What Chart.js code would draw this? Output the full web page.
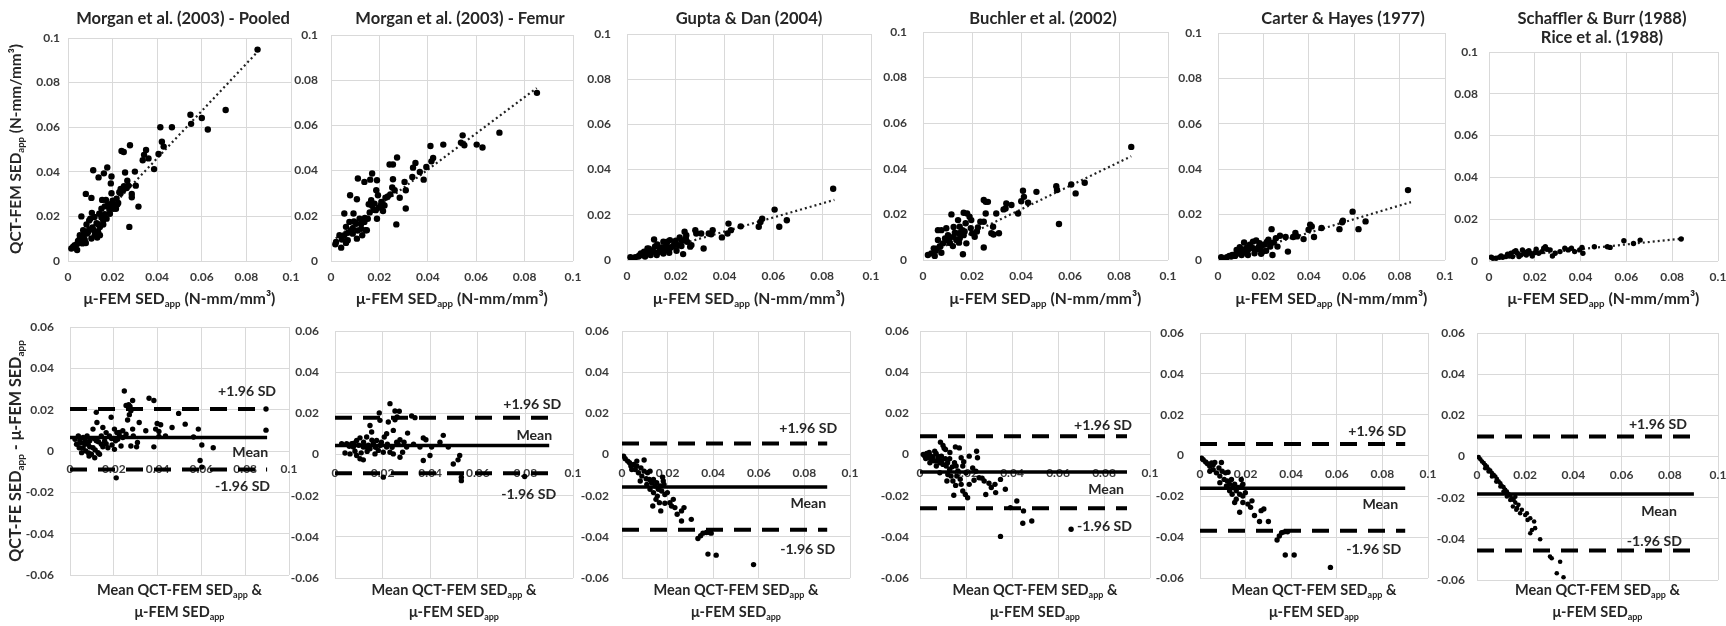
<!DOCTYPE html>
<html><head><meta charset="utf-8">
<script src="https://cdn.jsdelivr.net/npm/chart.js@4.4.1/dist/chart.umd.min.js"></script>
<style>
html,body{margin:0;padding:0;background:#fff;width:1726px;height:626px;overflow:hidden;position:relative}
canvas{position:absolute}
</style></head><body>
<script>
// ===================== DATA =====================
const studyTitles = [
  ['Morgan et al. (2003) - Pooled'],
  ['Morgan et al. (2003) - Femur'],
  ['Gupta & Dan (2004)'],
  ['Buchler et al. (2002)'],
  ['Carter & Hayes (1977)'],
  ['Schaffler & Burr (1988)', 'Rice et al. (1988)']
];
const topTicks = [0, 0.02, 0.04, 0.06, 0.08, 0.1];
const topTickLabels = ['0', '0.02', '0.04', '0.06', '0.08', '0.1'];
const baTicks = [-0.06, -0.04, -0.02, 0, 0.02, 0.04, 0.06];
const baTickLabels = ['-0.06', '-0.04', '-0.02', '0', '0.02', '0.04', '0.06'];

// QCT-FEM SED vs micro-FEM SED  [x, y]
const pooledPts = [[0.085,0.0948],[0.0707,0.0677],[0.060,0.0641],[0.0549,0.0656],[0.0552,0.0615],[0.0627,0.059],[0.0466,0.060],[0.0414,0.060],[0.0421,0.0535],[0.0429,0.0513],[0.0406,0.048],[0.0386,0.0412],[0.035,0.0498],[0.0341,0.0476],[0.0335,0.0452],[0.0361,0.046],[0.030,0.0401],[0.0278,0.0519],[0.024,0.0493],[0.025,0.0489],[0.0256,0.0397],[0.0304,0.0338],[0.0286,0.0301],[0.0286,0.0286],[0.0271,0.0338],[0.0251,0.0335],[0.0236,0.0323],[0.023,0.0308],[0.0316,0.0244],[0.0275,0.0153],[0.0195,0.0379],[0.0192,0.0348],[0.0176,0.0419],[0.0161,0.0393],[0.0137,0.0375],[0.0113,0.0407],[0.0195,0.0304],[0.0153,0.0274],[0.017,0.0274],[0.018,0.0253],[0.021,0.0249],[0.0221,0.0253],[0.0203,0.0234],[0.015,0.0234],[0.014,0.0212],[0.0173,0.019],[0.0158,0.0182],[0.0128,0.017],[0.0105,0.0283],[0.008,0.0301],[0.0107,0.0216],[0.0119,0.0197],[0.0095,0.0182],[0.0083,0.0164],[0.006,0.02],[0.0116,0.0138],[0.0135,0.013],[0.0143,0.0153],[0.0068,0.0138],[0.0053,0.0116],[0.0086,0.0123],[0.0105,0.0101],[0.008,0.0081],[0.0053,0.0101],[0.0041,0.0076],[0.0023,0.0064],[0.0015,0.0056],[0.0041,0.0049],[0.0065,0.0079],[0.0095,0.0141],[0.012,0.0116],[0.0131,0.0105],[0.0143,0.0116],[0.0075,0.0123],[0.003,0.0071],[0.0158,0.0164],[0.0188,0.0212],[0.0218,0.0279],[0.0215,0.0234],[0.0236,0.0304],[0.0248,0.0319],[0.0263,0.0327],[0.0266,0.036],[0.007,0.011],[0.009,0.013],[0.011,0.015],[0.0125,0.0125],[0.0135,0.0165],[0.015,0.0195],[0.0165,0.021],[0.0185,0.0235],[0.02,0.027],[0.0225,0.026],[0.01,0.019],[0.0075,0.0095],[0.0045,0.009],[0.0165,0.0245],[0.019,0.0255]];
const femurPts = [[0.0851,0.0744],[0.0696,0.0568],[0.0626,0.0502],[0.0602,0.0515],[0.0544,0.0556],[0.0551,0.0512],[0.0537,0.0524],[0.0464,0.0515],[0.0411,0.0509],[0.0422,0.0456],[0.0415,0.0441],[0.0394,0.0416],[0.0383,0.036],[0.0367,0.0394],[0.0349,0.0434],[0.0339,0.0413],[0.0336,0.0372],[0.0304,0.035],[0.0309,0.0313],[0.0309,0.0232],[0.0273,0.0458],[0.0242,0.0427],[0.0256,0.0427],[0.0256,0.0362],[0.0284,0.028],[0.027,0.0162],[0.0263,0.0313],[0.0245,0.0295],[0.0235,0.0286],[0.0253,0.0325],[0.019,0.0357],[0.017,0.0387],[0.0162,0.036],[0.0138,0.035],[0.0111,0.0365],[0.0187,0.0313],[0.0194,0.0291],[0.0166,0.0269],[0.0156,0.0251],[0.0176,0.0227],[0.0198,0.0236],[0.0221,0.0246],[0.0215,0.0221],[0.019,0.0187],[0.0107,0.0273],[0.0079,0.0291],[0.0093,0.021],[0.0055,0.021],[0.0118,0.0187],[0.0138,0.0173],[0.0148,0.0136],[0.0125,0.0143],[0.0104,0.0165],[0.0076,0.0173],[0.0062,0.0151],[0.0083,0.0136],[0.0107,0.0099],[0.0129,0.0114],[0.0069,0.0092],[0.0055,0.0114],[0.0035,0.0114],[0.0021,0.0084],[0.0018,0.0074],[0.0042,0.0059],[0.0062,0.008],[0.009,0.0121],[0.0143,0.0136],[0.0152,0.0187],[0.018,0.0254],[0.0208,0.0261],[0.007,0.0125],[0.009,0.0145],[0.011,0.0135],[0.0125,0.0165],[0.014,0.019],[0.016,0.0215],[0.0185,0.0225],[0.0205,0.0245],[0.0225,0.028],[0.0095,0.0175],[0.0045,0.0095],[0.017,0.0245]];
const guptaPts = [[0.0845,0.0315],[0.0605,0.0223],[0.0655,0.0176],[0.0624,0.0147],[0.0554,0.0183],[0.0547,0.0168],[0.054,0.0147],[0.0466,0.0149],[0.0416,0.0161],[0.0412,0.0117],[0.0426,0.0132],[0.0389,0.01],[0.0351,0.0132],[0.0345,0.0114],[0.0335,0.0117],[0.0314,0.0051],[0.0304,0.0117],[0.0284,0.0117],[0.028,0.0132],[0.0259,0.0059],[0.023,0.0026],[0.0246,0.0081],[0.0241,0.0095],[0.0236,0.0125],[0.0216,0.01],[0.02,0.0085],[0.0189,0.0062],[0.0176,0.0088],[0.0165,0.0081],[0.0151,0.0051],[0.0173,0.0051],[0.0135,0.0047],[0.0124,0.0069],[0.0111,0.0091],[0.0142,0.0056],[0.0108,0.0037],[0.0097,0.0022],[0.0084,0.0051],[0.0078,0.0032],[0.0061,0.0022],[0.0047,0.0015],[0.0034,0.0012],[0.002,0.0007],[0.0014,0.0012],[0.0074,0.0015],[0.0095,0.0029],[0.0122,0.0022],[0.0149,0.0029],[0.0173,0.0032],[0.0203,0.0041],[0.0223,0.0062],[0.0162,0.007],[0.0149,0.0081],[0.007,0.0037],[0.0057,0.0029],[0.0243,0.011],[0.0264,0.0066],[0.005,0.002],[0.008,0.0025],[0.0105,0.004],[0.013,0.0035],[0.016,0.0045],[0.018,0.0055],[0.021,0.0065],[0.0115,0.006],[0.009,0.005],[0.0195,0.0075],[0.0225,0.0085]];
const buchlerPts = [[0.085,0.0496],[0.066,0.0339],[0.0623,0.0292],[0.0605,0.0331],[0.0544,0.0324],[0.0547,0.0307],[0.0555,0.0158],[0.0463,0.0299],[0.0408,0.0304],[0.0412,0.0277],[0.0401,0.0258],[0.0429,0.0251],[0.0388,0.0204],[0.0361,0.0241],[0.034,0.0248],[0.0337,0.0226],[0.0329,0.0222],[0.0299,0.0204],[0.031,0.0117],[0.0288,0.0112],[0.0279,0.0117],[0.0286,0.0146],[0.0265,0.0255],[0.0256,0.0255],[0.0248,0.0263],[0.0256,0.0204],[0.0248,0.0168],[0.0234,0.0168],[0.0224,0.0143],[0.0211,0.0102],[0.0248,0.0055],[0.0201,0.0117],[0.0197,0.0175],[0.019,0.019],[0.018,0.0204],[0.0166,0.0207],[0.0174,0.0161],[0.0161,0.0131],[0.0166,0.0109],[0.0177,0.0073],[0.0163,0.0025],[0.0143,0.0175],[0.0116,0.02],[0.0147,0.0117],[0.0136,0.0088],[0.0122,0.0061],[0.0095,0.0139],[0.0075,0.0131],[0.0061,0.0131],[0.0109,0.0095],[0.0102,0.0109],[0.0093,0.0085],[0.0082,0.0073],[0.0068,0.0058],[0.0061,0.0088],[0.0052,0.0041],[0.0044,0.0051],[0.0034,0.0029],[0.002,0.0022],[0.0048,0.0018],[0.0075,0.0032],[0.0125,0.0102],[0.0147,0.0076],[0.015,0.0146],[0.007,0.006],[0.009,0.0095],[0.011,0.0075],[0.013,0.012],[0.015,0.0095],[0.017,0.0125],[0.0195,0.014],[0.022,0.0125],[0.0055,0.005],[0.0125,0.0145]];
const carterPts = [[0.0837,0.0308],[0.0593,0.0213],[0.065,0.017],[0.0619,0.0136],[0.055,0.0173],[0.0547,0.0166],[0.0535,0.0136],[0.0456,0.0141],[0.0406,0.0156],[0.0413,0.0148],[0.0399,0.0133],[0.0423,0.0101],[0.0377,0.0092],[0.0341,0.0119],[0.0331,0.0101],[0.0348,0.0104],[0.0308,0.0037],[0.0298,0.0101],[0.0273,0.0107],[0.0255,0.0096],[0.0236,0.0136],[0.024,0.0022],[0.023,0.0059],[0.0216,0.0081],[0.0222,0.0089],[0.0193,0.0062],[0.0176,0.0047],[0.0168,0.0086],[0.0154,0.0081],[0.0144,0.0059],[0.0125,0.0041],[0.0115,0.0077],[0.0111,0.0047],[0.0089,0.003],[0.0082,0.0044],[0.0075,0.0018],[0.0058,0.0015],[0.0039,0.0012],[0.002,0.0007],[0.0014,0.0012],[0.0063,0.0022],[0.0104,0.0022],[0.0132,0.0022],[0.0161,0.003],[0.019,0.0027],[0.0212,0.0041],[0.0197,0.0037],[0.014,0.0067],[0.0183,0.0074],[0.0245,0.0077],[0.0262,0.0059],[0.0132,0.0044],[0.0096,0.0056],[0.0118,0.0033],[0.005,0.0018],[0.008,0.0027],[0.0105,0.0035],[0.0128,0.0055],[0.0155,0.0052],[0.018,0.0058],[0.0205,0.0068],[0.0092,0.0045],[0.023,0.0075]];
const schafflerPts = [[0.0839,0.0105],[0.066,0.01],[0.0631,0.0084],[0.0589,0.0097],[0.0529,0.0065],[0.0517,0.0068],[0.046,0.0068],[0.0406,0.0065],[0.0396,0.0053],[0.041,0.0037],[0.0374,0.0045],[0.0346,0.0053],[0.0331,0.0061],[0.031,0.0045],[0.0289,0.0037],[0.0277,0.0024],[0.0267,0.0053],[0.0253,0.0056],[0.0239,0.0061],[0.0231,0.0045],[0.0217,0.0037],[0.02,0.004],[0.0181,0.0037],[0.0167,0.0045],[0.0153,0.0037],[0.0139,0.0029],[0.0124,0.0037],[0.011,0.0045],[0.0096,0.0037],[0.0089,0.0024],[0.0074,0.0021],[0.006,0.0018],[0.0046,0.0018],[0.0031,0.0013],[0.0017,0.0013],[0.001,0.0018],[0.0053,0.0024],[0.0081,0.0033],[0.0117,0.0049],[0.0146,0.0053],[0.0174,0.0049],[0.0206,0.0056],[0.0163,0.0029],[0.0131,0.0021],[0.0103,0.0021],[0.0189,0.0024],[0.0246,0.0068],[0.036,0.0061]];

// linear trend lines of the top row: [y at trendX[0], y at trendX[1]]
const trendX = [0.002, 0.085];
const trendY = [[0.0058,0.0938],[0.010,0.0765],[0.0008,0.0266],[0.0025,0.0455],[0.0006,0.0255],[0.0013,0.0108]];

// Bland-Altman: mean of both vs difference [x, y]
const baPooledPts = [[0.0248,0.029],[0.0361,0.0255],[0.0383,0.0244],[0.0286,0.0244],[0.0268,0.0224],[0.0256,0.022],[0.0274,0.0215],[0.0278,0.0195],[0.0263,0.015],[0.0271,0.0176],[0.0188,0.0163],[0.012,0.0187],[0.0123,0.0138],[0.015,0.0114],[0.0496,0.0182],[0.0526,0.013],[0.0466,0.0114],[0.0398,0.0133],[0.0414,0.0127],[0.0406,0.0094],[0.0391,0.0106],[0.0436,0.0073],[0.0406,0.007],[0.0346,0.0098],[0.0316,0.0138],[0.0286,0.0106],[0.0289,0.0073],[0.0241,0.0098],[0.0214,0.0089],[0.0203,0.0106],[0.0226,0.0073],[0.0208,0.0049],[0.0192,0.0029],[0.0233,0.0024],[0.0278,0.0024],[0.0241,0.0065],[0.0304,0.002],[0.0383,0.002],[0.0586,0.0106],[0.0564,0.0068],[0.0602,0.0029],[0.0654,0.0016],[0.0594,-0.0046],[0.0602,-0.0078],[0.0895,0.0101],[0.0895,0.0203],[0.0211,-0.013],[0.0165,0.0089],[0.0143,0.0073],[0.0105,0.0106],[0.0078,0.0073],[0.009,0.0049],[0.006,0.0065],[0.0045,0.0049],[0.003,0.0033],[0.0023,0.0057],[0.0042,0.0016],[0.0053,-0.0008],[0.0072,0],[0.0083,0.0033],[0.0105,0.0016],[0.0098,-0.0016],[0.0113,-0.0033],[0.0128,-0.0008],[0.0143,0.0033],[0.012,0.0049],[0.0158,0.0049],[0.0173,0.0016],[0.0203,0.0008],[0.0135,-0.0016],[0.0087,-0.0024],[0.0068,0.0033],[0.0038,0.0073],[0.018,0.0073],[0.0218,0.0057],[0.0256,0.0081],[0.0308,0.0041],[0.005,0.004],[0.007,0.005],[0.009,0.002],[0.011,0.006],[0.013,0.0045],[0.015,0.002],[0.006,0.0015],[0.0085,-0.001],[0.0115,0.0005],[0.0165,0.0035],[0.019,0.006],[0.0225,0.009]];
const baFemurPts = [[0.0231,0.0247],[0.0186,0.0202],[0.0252,0.0211],[0.027,0.021],[0.0261,0.0182],[0.0252,0.0169],[0.0189,0.0166],[0.0147,0.0141],[0.0224,0.0158],[0.0322,0.0187],[0.0336,0.0179],[0.0455,0.0093],[0.0245,0.0117],[0.0217,0.0101],[0.0207,0.0085],[0.0305,0.0104],[0.0371,0.008],[0.0382,0.0072],[0.0441,0.006],[0.0273,0.0072],[0.0259,0.006],[0.0175,0.0068],[0.0154,0.0109],[0.0133,0.0085],[0.0105,0.0081],[0.0091,0.0068],[0.007,0.0052],[0.0049,0.0052],[0.0028,0.0052],[0.0042,0.0007],[0.0063,0.0003],[0.0084,0.0016],[0.0105,-0.0021],[0.0119,-0.0026],[0.013,0.0036],[0.0147,0.0028],[0.0168,0.0003],[0.0182,0.002],[0.0203,0.0011],[0.0217,0.0036],[0.0231,0.0011],[0.0245,0.0003],[0.0273,-0.0013],[0.0284,0.0011],[0.0301,0.0036],[0.0357,0.0036],[0.0371,-0.0029],[0.0399,-0.0005],[0.0406,0.0036],[0.0203,-0.011],[0.0497,-0.0046],[0.0517,-0.0026],[0.0524,-0.0005],[0.0531,-0.011],[0.0531,-0.0127],[0.0797,-0.0107],[0.0476,0.0036],[0.0077,0.0036],[0.0119,0.0036],[0.0161,0.0052],[0.0189,0.0044],[0.0091,-0.0005],[0.006,0.004],[0.008,0.0055],[0.010,0.0045],[0.012,0.006],[0.014,0.0045],[0.0155,0.007],[0.017,0.0035],[0.0195,0.006],[0.022,0.005],[0.024,0.0035],[0.0265,0.005],[0.011,0.0008],[0.0135,0.0015],[0.029,0.006],[0.033,0.005]];
const baGuptaPts = [[0.0007,-0.0008],[0.0014,-0.0021],[0.0025,-0.0032],[0.0033,-0.004],[0.0039,-0.0056],[0.0051,-0.0048],[0.0058,-0.0073],[0.0065,-0.0032],[0.0072,-0.0089],[0.0083,-0.0065],[0.0087,-0.0105],[0.0097,-0.0081],[0.0097,-0.0027],[0.0106,-0.0118],[0.0112,-0.0089],[0.012,-0.0121],[0.0123,-0.0081],[0.013,-0.0137],[0.0138,-0.0121],[0.0145,-0.0153],[0.0152,-0.0137],[0.0159,-0.0169],[0.0167,-0.0153],[0.0174,-0.0177],[0.0184,-0.0145],[0.0188,-0.0194],[0.0178,-0.011],[0.0199,-0.0185],[0.0135,-0.025],[0.017,-0.0274],[0.0164,-0.0234],[0.0188,-0.0237],[0.021,-0.0234],[0.0217,-0.025],[0.0225,-0.0218],[0.0232,-0.0258],[0.0242,-0.029],[0.0261,-0.0274],[0.0272,-0.0258],[0.0261,-0.0323],[0.0304,-0.0315],[0.0333,-0.0408],[0.0345,-0.0395],[0.0355,-0.0382],[0.037,-0.0379],[0.0384,-0.0379],[0.0391,-0.0382],[0.0377,-0.0484],[0.0413,-0.0489],[0.0577,-0.0535],[0.008,-0.0129],[0.0109,-0.0145],[0.0138,-0.0185],[0.0155,-0.0202],[0.0149,-0.0218],[0.0065,-0.0056],[0.0043,-0.0073],[0.0123,-0.0169],[0.0181,-0.0129]];
const baBuchlerPts = [[0.0014,0],[0.0021,-0.0008],[0.0029,0.0005],[0.0036,-0.0016],[0.0043,-0.0005],[0.005,-0.0024],[0.0057,-0.0011],[0.0069,-0.0032],[0.0079,-0.0021],[0.0086,-0.004],[0.0093,-0.0008],[0.01,-0.0048],[0.0089,0.006],[0.01,0.0044],[0.0111,0.0024],[0.0114,-0.0056],[0.0129,-0.0073],[0.0117,-0.0129],[0.0143,-0.0129],[0.015,-0.004],[0.0157,-0.0056],[0.016,-0.0105],[0.0154,0.0037],[0.0171,0.0032],[0.0179,-0.0016],[0.0186,-0.0056],[0.0179,-0.0145],[0.0147,-0.0198],[0.0186,-0.0177],[0.0197,-0.0194],[0.0207,-0.021],[0.0214,-0.0145],[0.0229,-0.0065],[0.0243,-0.0081],[0.0246,0.0016],[0.025,-0.0016],[0.0257,-0.0113],[0.0279,-0.0129],[0.0286,-0.0194],[0.03,-0.014],[0.0326,-0.0145],[0.0329,-0.0185],[0.035,-0.0121],[0.0371,-0.0169],[0.035,-0.0398],[0.0393,-0.0258],[0.0421,-0.0226],[0.045,-0.0274],[0.0447,-0.0334],[0.0486,-0.0323],[0.0657,-0.0363],[0.0071,-0.0056],[0.0129,-0.0021],[0.02,-0.0089],[0.0086,-0.0089],[0.0121,-0.0097],[0.0064,0.0016],[0.0043,-0.004],[0.0214,-0.0008],[0.0025,-0.002],[0.004,0.001],[0.006,-0.003],[0.007,0.0005],[0.008,-0.001],[0.0095,-0.003],[0.011,-0.002],[0.012,-0.004],[0.013,0.001],[0.014,-0.006],[0.0165,-0.008],[0.0175,-0.012],[0.019,-0.0035],[0.0105,0.003],[0.0135,-0.0105],[0.0155,-0.015],[0.0235,-0.0125],[0.027,-0.0115],[0.031,-0.016]];
const baCarterPts = [[0.0007,-0.0013],[0.0014,-0.0021],[0.0025,-0.0032],[0.0033,-0.004],[0.0043,-0.0053],[0.0051,-0.0037],[0.0058,-0.0069],[0.0065,-0.0034],[0.0072,-0.0085],[0.0083,-0.0061],[0.0087,-0.0101],[0.0097,-0.0077],[0.0094,-0.0034],[0.0106,-0.0117],[0.0112,-0.0085],[0.012,-0.0125],[0.0123,-0.0082],[0.013,-0.0141],[0.0138,-0.0117],[0.0145,-0.0157],[0.0152,-0.0141],[0.0159,-0.0173],[0.0167,-0.0157],[0.0174,-0.019],[0.0184,-0.0149],[0.0188,-0.0198],[0.0181,-0.0117],[0.0199,-0.0182],[0.0174,-0.0278],[0.0188,-0.023],[0.021,-0.0238],[0.0222,-0.0254],[0.0228,-0.0222],[0.0239,-0.0294],[0.0268,-0.027],[0.028,-0.0262],[0.0261,-0.0323],[0.03,-0.0323],[0.0338,-0.0414],[0.0348,-0.0394],[0.0358,-0.0378],[0.037,-0.0374],[0.0384,-0.0374],[0.0374,-0.0487],[0.0413,-0.0487],[0.0572,-0.0548],[0.0087,-0.0133],[0.0116,-0.0149],[0.0141,-0.019],[0.0159,-0.0214],[0.0152,-0.023],[0.0058,-0.0045],[0.0043,-0.0077],[0.013,-0.0173],[0.0188,-0.0141]];
const baSchafflerPts = [[0.0007,-0.0003],[0.0014,-0.0013],[0.0021,-0.0024],[0.0028,-0.0032],[0.0034,-0.0041],[0.0041,-0.0049],[0.0048,-0.0062],[0.0055,-0.0068],[0.0062,-0.0081],[0.0069,-0.0089],[0.0076,-0.0097],[0.0083,-0.011],[0.009,-0.0122],[0.0097,-0.013],[0.0103,-0.0143],[0.011,-0.0149],[0.0117,-0.0162],[0.0124,-0.017],[0.0131,-0.0182],[0.0138,-0.0191],[0.0145,-0.0203],[0.0152,-0.0211],[0.0159,-0.0224],[0.0149,-0.0243],[0.0166,-0.0251],[0.0179,-0.0276],[0.02,-0.0284],[0.021,-0.0308],[0.0221,-0.03],[0.0237,-0.0316],[0.0228,-0.0357],[0.0241,-0.0348],[0.0221,-0.0373],[0.0262,-0.0402],[0.0303,-0.0486],[0.031,-0.0494],[0.0345,-0.0511],[0.0331,-0.0567],[0.0359,-0.0587],[0.0163,-0.0259],[0.0138,-0.0211],[0.0124,-0.0194],[0.011,-0.017],[0.0097,-0.0146],[0.008,-0.0122],[0.0062,-0.0097],[0.0048,-0.0073],[0.0034,-0.0057],[0.0159,-0.0195],[0.0172,-0.0235],[0.0186,-0.0259],[0.0207,-0.0276]];

const baMean  = [0.0065, 0.0044, -0.0158, -0.0085, -0.0161, -0.0182];
const baUpper = [0.0203, 0.0179, 0.0053, 0.0089, 0.0056, 0.0097];
const baLower = [-0.0089, -0.0091, -0.0366, -0.0261, -0.0369, -0.0457];
const baLineStart = 0;
const baLineEnd = 0.09;
const baLabelTexts = ['+1.96 SD', 'Mean', '-1.96 SD'];

const topSeries = [pooledPts, femurPts, guptaPts, buchlerPts, carterPts, schafflerPts];
const baSeries = [baPooledPts, baFemurPts, baGuptaPts, baBuchlerPts, baCarterPts, baSchafflerPts];

// ===================== LAYOUT / STYLE =====================
const TOP_RECTS = [[68,38,291,261],[331,35,573,261],[627,34,871,260],[923,32,1168,260],[1218,33,1445,260],[1489,52,1718,261]];
const BOT_RECTS = [[70,327,289,575],[335,331,573,578],[622,331,850,578],[920,331,1150,578],[1200,333,1428,578],[1477,333,1718,580]];
const TOP_GAP = [8,13,16,16,16,11];
const BOT_GAP = [16,16,13,11,16,12];
const TITLE_CX = [183,460,749,1043,1343,1602];
const TOP_RADIUS = [3.2,3.2,3.2,3.2,3.2,2.7];
const BOT_RADIUS = [2.7,2.7,2.7,2.7,2.7,2.3];
const BA_LABEL_OFF = [
  [[9,-18],[1,14],[3,17]],
  [[12,-14],[3,-11],[7,21]],
  [[10,-16],[-1,16],[8,19]],
  [[5,-11],[-3,17],[5,18]],
  [[1,-13],[-7,16],[-4,18]],
  [[-7,-13],[-17,17],[-12,-10]]
];
const YAXIS_W = 50;
const XAXIS_H = 30;
const FONT = 'Lato';
const TEXT_COLOR = '#262626';
const TICK_COLOR = '#3a3a3a';
const GRID_COLOR = '#d9d9d9';
const SUB = 0.62;

const P = (t, sub) => ({t, sub: !!sub});
const topXTitle = [P('\u03bc-FEM SED'), P('app', 1), P(' (N-mm/mm\u00b3)')];
const topYTitle = [P('QCT-FEM SED'), P('app', 1), P(' (N-mm/mm\u00b3)')];
const botXTitle1 = [P('Mean QCT-FEM SED'), P('app', 1), P(' &')];
const botXTitle2 = [P('\u03bc-FEM SED'), P('app', 1)];
const botYTitle = [P('QCT-FE SED'), P('app', 1), P(' - \u03bc-FEM SED'), P('app', 1)];

const mctx = document.createElement('canvas').getContext('2d');
function partsWidth(parts, size, weight) {
  let w = 0;
  for (const p of parts) { mctx.font = `${weight} ${p.sub ? size * SUB : size}px ${FONT}`; w += mctx.measureText(p.t).width; }
  return w;
}
function fitSize(parts, target, weight) { return 100 * target / partsWidth(parts, 100, weight); }

const titleSize = fitSize([P(studyTitles[0][0])], 214, 'bold');
const topXSize = fitSize(topXTitle, 192, 'bold');
const topYSize = fitSize(topYTitle, 210, 'bold');
const botXSize = fitSize(botXTitle1, 165, 'bold');
const botYSize = fitSize(botYTitle, 222, 'bold');
const baLabSize = fitSize([P('+1.96 SD')], 58, 'bold');

function drawRich(ctx, parts, cx, cy, size, weight, color, rot) {
  ctx.save();
  ctx.translate(cx, cy);
  if (rot) ctx.rotate(rot);
  const w = partsWidth(parts, size, weight);
  let x = -w / 2;
  ctx.fillStyle = color; ctx.textAlign = 'left'; ctx.textBaseline = 'alphabetic';
  const base = size * 0.36;
  for (const p of parts) {
    const s = p.sub ? size * SUB : size;
    ctx.font = `${weight} ${s}px ${FONT}`;
    ctx.fillText(p.t, x, base + (p.sub ? size * 0.22 : 0));
    x += ctx.measureText(p.t).width;
  }
  ctx.restore();
}
function drawRight(ctx, text, rx, cy, size, color) {
  ctx.save();
  ctx.font = `bold ${size}px ${FONT}`;
  ctx.fillStyle = color; ctx.textAlign = 'right'; ctx.textBaseline = 'alphabetic';
  ctx.fillText(text, rx, cy + size * 0.36);
  ctx.restore();
}

function makeCanvas(x, y, w, h) {
  const c = document.createElement('canvas');
  c.width = w; c.height = h;
  c.style.left = x + 'px'; c.style.top = y + 'px';
  c.style.width = w + 'px'; c.style.height = h + 'px';
  document.body.appendChild(c);
  return c;
}

function axisCommon(ticks, labels, gap) {
  return {
    type: 'linear',
    min: ticks[0], max: ticks[ticks.length - 1],
    afterBuildTicks: s => { s.ticks = ticks.map(v => ({value: v})); },
    ticks: {
      callback: (v, i) => labels[i],
      autoSkip: false, maxRotation: 0, minRotation: 0,
      padding: gap,
      color: TICK_COLOR,
      font: {family: FONT, size: 12, weight: 'bold'}
    },
    grid: {color: GRID_COLOR, lineWidth: 1, drawTicks: false},
    border: {display: false}
  };
}

function buildChart(i, isTop) {
  const [L, T, R, B] = isTop ? TOP_RECTS[i] : BOT_RECTS[i];
  const cx = i === 0 ? 0 : L - 75;
  const cy = isTop ? 0 : 305;
  const cw = Math.min(R + 25, 1726) - cx;
  const ch = isTop ? 310 : 321;
  const canvas = makeCanvas(cx, cy, cw, ch);
  const padding = {
    left: L - cx - YAXIS_W,
    top: T - cy,
    right: cx + cw - R,
    bottom: isTop ? (cy + ch - B - XAXIS_H) : (cy + ch - B)
  };
  const xAxis = axisCommon(topTicks, topTickLabels, isTop ? 9 : 11);
  xAxis.position = isTop ? 'bottom' : {y: 0};
  xAxis.afterFit = s => { if (isTop) s.height = XAXIS_H; s.paddingLeft = 0; s.paddingRight = 0; };
  const yAxis = isTop ? axisCommon(topTicks, topTickLabels, TOP_GAP[i]) : axisCommon(baTicks, baTickLabels, BOT_GAP[i]);
  yAxis.position = 'left';
  yAxis.afterFit = s => { s.width = YAXIS_W; s.paddingTop = 0; s.paddingBottom = 0; };

  const pts = (isTop ? topSeries[i] : baSeries[i]).map(([x, y]) => ({x, y}));
  const datasets = [{
    data: pts, showLine: false,
    pointRadius: isTop ? TOP_RADIUS[i] : BOT_RADIUS[i],
    pointBackgroundColor: '#000', pointBorderWidth: 0, borderColor: '#000'
  }];
  if (isTop) {
    datasets.push({
      data: [{x: trendX[0], y: trendY[i][0]}, {x: trendX[1], y: trendY[i][1]}],
      showLine: true, pointRadius: 0, borderColor: '#222', borderWidth: 2.2,
      borderDash: [2, 3], borderCapStyle: 'butt'
    });
  } else {
    datasets.push({
      data: [{x: baLineStart, y: baMean[i]}, {x: baLineEnd, y: baMean[i]}],
      showLine: true, pointRadius: 0, borderColor: '#000', borderWidth: 3.5, borderCapStyle: 'butt'
    });
    for (const v of [baUpper[i], baLower[i]]) {
      datasets.push({
        data: [{x: baLineStart, y: v}, {x: baLineEnd, y: v}],
        showLine: true, pointRadius: 0, borderColor: '#000', borderWidth: 4,
        borderDash: [17, 11], borderCapStyle: 'butt'
      });
    }
  }

  const textPlugin = {
    id: 'texts' + i + (isTop ? 't' : 'b'),
    afterDraw(chart) {
      const ctx = chart.ctx;
      const a = chart.chartArea;
      const pcx = (a.left + a.right) / 2;
      if (isTop) {
        const lines = studyTitles[i];
        lines.forEach((ln, k) => drawRich(ctx, [P(ln)], TITLE_CX[i] - cx, 18 + k * 19, titleSize, 'bold', TEXT_COLOR, 0));
        drawRich(ctx, topXTitle, pcx, 298 - cy, topXSize, 'bold', TEXT_COLOR, 0);
        if (i === 0) drawRich(ctx, topYTitle, 15 - cx, 149 - cy, topYSize, 'bold', TEXT_COLOR, -Math.PI / 2);
      } else {
        drawRich(ctx, botXTitle1, pcx, 590 - cy, botXSize, 'bold', TEXT_COLOR, 0);
        drawRich(ctx, botXTitle2, pcx, 612 - cy, botXSize, 'bold', TEXT_COLOR, 0);
        if (i === 0) drawRich(ctx, botYTitle, 15 - cx, 451 - cy, botYSize, 'bold', TEXT_COLOR, -Math.PI / 2);
        const xs = chart.scales.x, ys = chart.scales.y;
        const vals = [baUpper[i], baMean[i], baLower[i]];
        vals.forEach((v, k) => {
          const [dx, dy] = BA_LABEL_OFF[i][k];
          drawRight(ctx, baLabelTexts[k], xs.getPixelForValue(baLineEnd) + dx, ys.getPixelForValue(v) + dy, baLabSize, TEXT_COLOR);
        });
      }
    }
  };

  return new Chart(canvas, {
    type: 'scatter',
    data: {datasets},
    options: {
      responsive: false, animation: false, devicePixelRatio: 1, events: [],
      layout: {padding},
      plugins: {legend: {display: false}, tooltip: {enabled: false}, title: {display: false}},
      scales: {x: xAxis, y: yAxis}
    },
    plugins: [textPlugin]
  });
}

for (let i = 0; i < 6; i++) { buildChart(i, true); buildChart(i, false); }
</script>
</body></html>
